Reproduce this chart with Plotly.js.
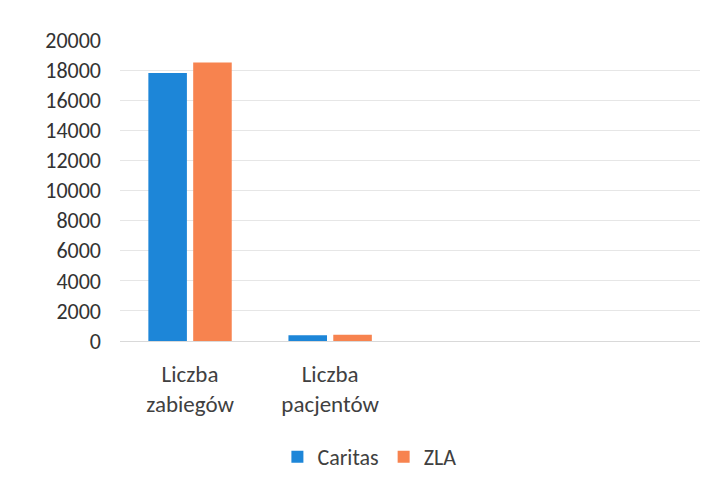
<!DOCTYPE html>
<html>
<head>
<meta charset="utf-8">
<script src="https://cdn.plot.ly/plotly-3.0.1.min.js"></script>
<style>html,body{margin:0;padding:0;background:#fff;}#chart{width:712px;height:495px;}</style>
</head>
<body>
<div id="chart"></div>
<script>
var categories = ["Liczba<br>zabiegów", "Liczba<br>pacjentów"];
var caritas = [17800, 380];
var zla = [18500, 420];
var seriesNames = ["Caritas", "ZLA"];
var yTicks = [0, 2000, 4000, 6000, 8000, 10000, 12000, 14000, 16000, 18000, 20000];

var xpos = categories.map(function (c, i) { return i; });
var font = "Carlito, 'Open Sans', 'Liberation Sans', sans-serif";

var data = [
  {type: "bar", name: seriesNames[0], x: xpos, y: caritas, marker: {color: "#1d86d8"}, hoverinfo: "none"},
  {type: "bar", name: seriesNames[1], x: xpos, y: zla, marker: {color: "#f7834f"}, hoverinfo: "none"}
];

var layout = {
  width: 712, height: 495,
  margin: {l: 120, r: 12, t: 40, b: 154},
  paper_bgcolor: "#ffffff", plot_bgcolor: "#ffffff",
  barmode: "group", bargap: 0.36, bargroupgap: 0.14,
  showlegend: true,
  legend: {orientation: "h", x: 0.43, xanchor: "center", y: -0.385, yanchor: "middle",
           font: {family: font, size: 22, color: "#404040"}, itemwidth: 30, tracegroupgap: 0},
  xaxis: {range: [-0.5, 3.64], tickmode: "array", tickvals: xpos, ticktext: categories,
          showgrid: false, zeroline: false, showline: true, linecolor: "#d9d9d9", linewidth: 1,
          ticks: "", tickfont: {family: font, size: 23, color: "#404040"}, ticklabelstandoff: 12},
  yaxis: {range: [0, 20000], tickmode: "array", tickvals: yTicks, ticktext: yTicks.map(String),
          showgrid: true, gridcolor: "#e6e6e6", gridwidth: 1, zeroline: false, showline: false,
          ticks: "", tickfont: {family: font, size: 22, color: "#333"}, ticklabelstandoff: 18}
};

Plotly.newPlot("chart", data, layout, {staticPlot: true, displayModeBar: false});
</script>
</body>
</html>
